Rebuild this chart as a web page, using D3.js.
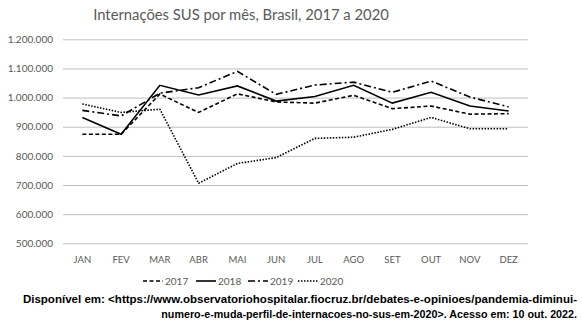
<!DOCTYPE html>
<html><head><meta charset="utf-8">
<script src="https://cdn.jsdelivr.net/npm/d3@7"></script>
<style>body{margin:0;background:#fff}svg{display:block}</style>
</head><body>
<svg id="c" width="582" height="322"></svg>
<script>
const months = ["JAN","FEV","MAR","ABR","MAI","JUN","JUL","AGO","SET","OUT","NOV","DEZ"];
const s2017 = [874000,874000,1012000,949000,1013000,985000,981000,1008000,962000,971000,943000,945000];
const s2018 = [932000,874000,1042000,1009000,1040000,988000,1004000,1042000,981000,1018000,971000,954000];
const s2019 = [956000,937000,1015000,1034000,1090000,1011000,1043000,1053000,1018000,1057000,1002000,968000];
const s2020 = [978000,949000,960000,706000,774000,794000,860000,864000,891000,932000,893000,893000];
const yTicks = [500000,600000,700000,800000,900000,1000000,1100000,1200000];
const seriesNames = ["2017","2018","2019","2020"];
const title = "Internações SUS por mês, Brasil, 2017 a 2020";
const source1 = "Disponível em: <https://www.observatoriohospitalar.fiocruz.br/debates-e-opinioes/pandemia-diminui-";
const source2 = "numero-e-muda-perfil-de-internacoes-no-sus-em-2020>. Acesso em: 10 out. 2022.";

const svg = d3.select("#c");
const font = "Lato, 'Open Sans', sans-serif";
const x = d3.scaleBand().domain(months).range([63, 528]);
const y = d3.scaleLinear().domain([500000, 1200000]).range([243.3, 39.3]);
const fmt = v => d3.format(",")(v).replace(/,/g, ".");

svg.append("text").attr("x", 241).attr("y", 20).attr("text-anchor", "middle")
  .attr("font-family", font).attr("font-size", 14.8).attr("fill", "#595959").text(title);

const yAxis = d3.axisLeft(y).tickValues(yTicks).tickFormat(fmt).tickSize(-(528-63)).tickPadding(10);
const gy = svg.append("g").attr("transform", "translate(63,0)").call(yAxis);
gy.select(".domain").remove();
gy.selectAll(".tick line").attr("stroke", "#bfbfbf").attr("stroke-width", 1);
gy.selectAll(".tick text").attr("font-family", font).attr("font-size", 10).attr("fill", "#595959");

const xAxis = d3.axisBottom(x).tickSize(0).tickPadding(13);
const gx = svg.append("g").attr("transform", "translate(0,243.3)").call(xAxis);
gx.select(".domain").remove();
gx.selectAll(".tick text").attr("font-family", font).attr("font-size", 9.5).attr("fill", "#595959");

const styles = {"2017": "4,2.5", "2018": null, "2019": "7,3,2,3", "2020": "1.5,1.5"};
const data = {"2017": s2017, "2018": s2018, "2019": s2019, "2020": s2020};
const line = d3.line().x((d, i) => x(months[i]) + x.bandwidth()/2).y(d => y(d));
seriesNames.forEach(n => {
  svg.append("path").datum(data[n]).attr("d", line).attr("fill", "none")
    .attr("stroke", "#000").attr("stroke-width", 1.6)
    .attr("stroke-dasharray", styles[n]);
});

// legend
const legX = [143, 196, 248, 298];
const lg = svg.append("g");
seriesNames.forEach((n, i) => {
  lg.append("line").attr("x1", legX[i]).attr("x2", legX[i] + 20).attr("y1", 281).attr("y2", 281)
    .attr("stroke", "#000").attr("stroke-width", 1.6).attr("stroke-dasharray", styles[n]);
  lg.append("text").attr("x", legX[i] + 22).attr("y", 284.5).attr("font-family", font)
    .attr("font-size", 10).attr("fill", "#595959").text(n);
});

function fitText(str, xEnd, yb, width) {
  const t = svg.append("text").attr("x", xEnd).attr("y", yb).attr("text-anchor", "end")
    .attr("font-family", "'Liberation Sans', Arial, sans-serif").attr("font-weight", "bold")
    .attr("font-size", 10).text(str);
  const w = t.node().getComputedTextLength();
  t.attr("font-size", 10 * width / w);
  return t;
}
fitText(source1, 577, 303, 555);
fitText(source2, 577, 318, 416);
</script>
</body></html>
